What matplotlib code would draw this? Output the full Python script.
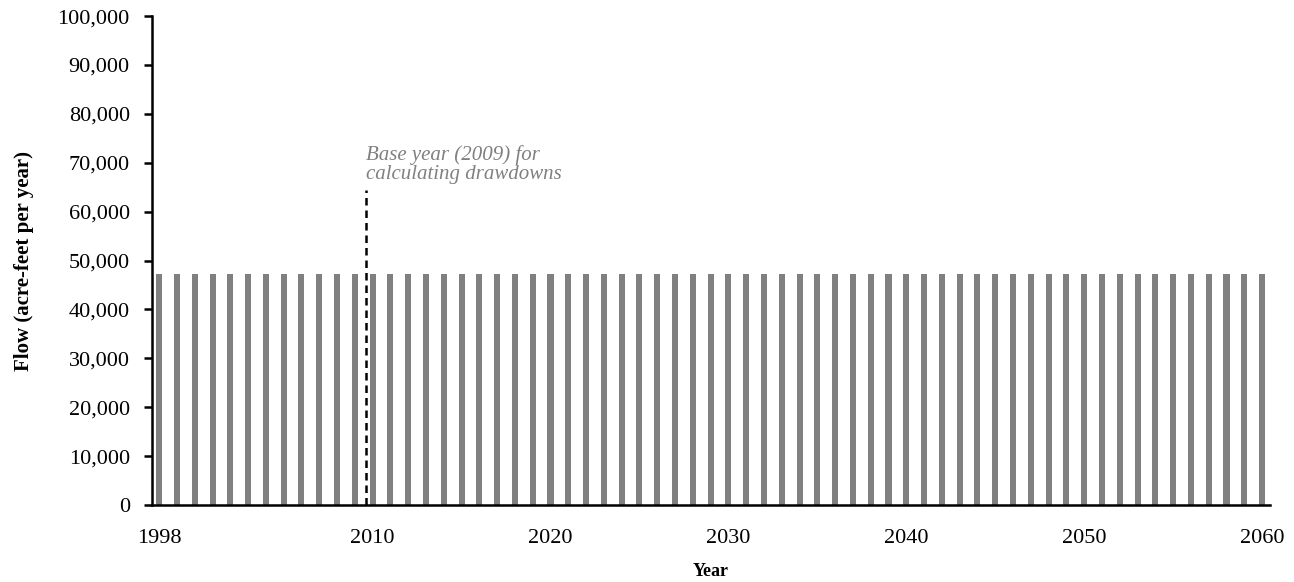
import numpy as np
import matplotlib as mpl
import matplotlib.pyplot as plt
from matplotlib.ticker import FuncFormatter

mpl.rc('font', family='Liberation Serif', size=16)

# data
years = np.arange(1998, 2061)
flow = [47200] * len(years)
base_year_x = 2009.6
base_year_top = 64400
xtick_years = [1998, 2010, 2020, 2030, 2040, 2050, 2060]
annotation = "Base year (2009) for\ncalculating drawdowns"

fig = plt.figure(figsize=(12.94, 5.82), dpi=100)
ax = fig.add_axes([0.1175, 0.1323, 0.864, 0.840])

ax.bar(years, flow, width=0.34, color='#808080', zorder=1)
ax.plot([base_year_x, base_year_x], [0, base_year_top], color='k',
        linestyle=(0, (3, 2)), linewidth=1.8, zorder=2)
ax.text(base_year_x, base_year_top + 1200, annotation, color='#808080',
        style='italic', fontsize=15, va='bottom', ha='left', linespacing=1.0)

ax.set_xlim(1997.6, 2060.45)
ax.set_ylim(0, 100000)
ax.set_xticks(xtick_years)
ax.set_yticks(np.arange(0, 100001, 10000))
ax.yaxis.set_major_formatter(FuncFormatter(lambda v, p: f"{int(v):,}"))

for s in ['top', 'right']:
    ax.spines[s].set_visible(False)
for s in ['left', 'bottom']:
    ax.spines[s].set_linewidth(1.8)
    ax.spines[s].set_zorder(3)

ax.tick_params(axis='y', direction='out', length=6, width=1.8, pad=10)
ax.tick_params(axis='x', length=0, pad=17)

ax.set_xlabel('Year', fontweight='bold', fontsize=13, labelpad=11)
ax.set_ylabel('Flow (acre-feet per year)', fontweight='bold', fontsize=15, labelpad=17)

plt.savefig('out.png', dpi=100)
